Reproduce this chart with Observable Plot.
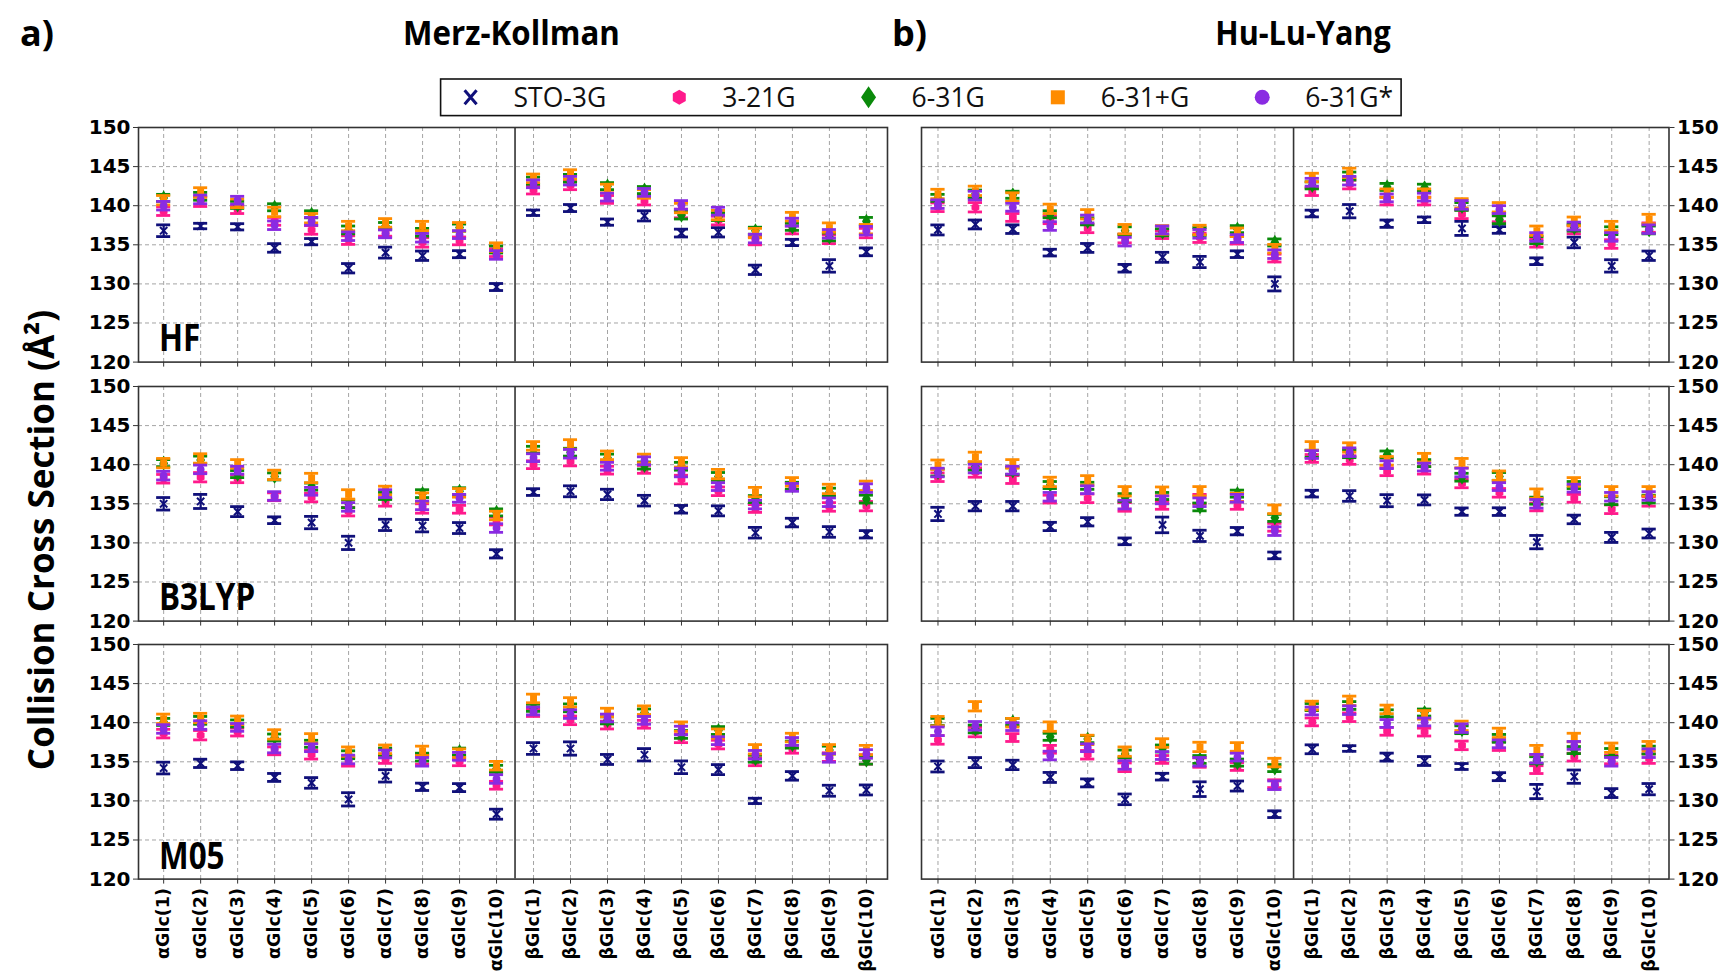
<!DOCTYPE html>
<html>
<head>
<meta charset="utf-8">
<script src="https://cdn.jsdelivr.net/npm/d3@7"></script>
<script src="https://cdn.jsdelivr.net/npm/@observablehq/plot@0.6"></script>
<style>
  html, body { margin: 0; padding: 0; background: #fff; }
  #root { position: relative; width: 1727px; height: 975px; overflow: hidden; background: #fff; }
  #root svg { position: absolute; }
</style>
</head>
<body>
<div id="root"></div>
<script>
// ---------------- data ----------------
const categories = ["αGlc(1)","αGlc(2)","αGlc(3)","αGlc(4)","αGlc(5)","αGlc(6)","αGlc(7)","αGlc(8)","αGlc(9)","αGlc(10)",
                    "βGlc(1)","βGlc(2)","βGlc(3)","βGlc(4)","βGlc(5)","βGlc(6)","βGlc(7)","βGlc(8)","βGlc(9)","βGlc(10)"];
const seriesNames = ["STO-3G","3-21G","6-31G","6-31+G","6-31G*"];
const seriesColors = ["#10107a","#ff1a8c","#0a8a0a","#ff8c00","#8a2be2"];
const seriesSymbols = ["times","hexagon","diamond","square","circle"];
const methods = ["Merz-Kollman","Hu-Lu-Yang"];
const functionals = ["HF","B3LYP","M05"];
const yTicks = [120,125,130,135,140,145,150];
const yGrid = [125,130,135,140,145];

// HF / Merz-Kollman
const hfMK_sto  = [136.8,137.4,137.3,134.6,135.4,132.0,134.0,133.6,133.8,129.6, 139.1,139.7,137.9,138.7,136.5,136.6,131.8,135.3,132.3,134.1];
const hfMK_321  = [139.3,140.5,139.5,138.0,136.9,135.6,136.6,135.3,135.5,134.0, 142.0,142.6,140.8,140.6,139.0,138.1,135.5,136.9,135.7,136.5];
const hfMK_631  = [141.0,141.2,140.1,139.8,138.9,136.9,137.4,136.6,137.2,134.4, 143.2,143.5,142.5,142.0,138.8,138.6,136.8,137.3,136.0,138.0];
const hfMK_631p = [140.7,141.7,140.3,139.2,138.4,137.4,137.8,137.4,137.3,134.7, 143.5,144.0,142.2,141.5,139.7,138.8,136.5,138.6,137.2,137.0];
const hfMK_631s = [140.0,140.8,140.7,137.5,138.0,136.1,136.4,135.9,136.3,133.7, 142.8,143.2,141.1,141.7,140.1,139.3,135.8,137.9,136.4,136.8];
// HF / Hu-Lu-Yang
const hfHLY_sto  = [136.9,137.6,137.0,134.0,134.6,132.0,133.4,132.8,133.8,130.0, 139.0,139.3,137.7,138.2,137.1,136.9,132.9,135.3,132.3,133.6];
const hfHLY_321  = [139.8,139.8,138.5,138.2,137.1,135.8,136.3,135.9,135.6,133.3, 141.8,142.7,140.6,140.6,138.9,138.5,135.2,136.9,135.1,137.2];
const hfHLY_631  = [141.0,141.5,141.4,138.9,138.0,136.8,136.6,136.7,137.0,135.3, 142.6,143.8,142.4,142.3,139.9,138.2,135.6,137.2,136.8,136.9];
const hfHLY_631p = [141.5,141.9,141.1,139.6,138.9,137.0,136.9,136.9,136.6,134.5, 143.6,144.2,141.6,141.6,140.3,139.8,136.8,138.0,137.4,138.3];
const hfHLY_631s = [140.2,141.3,139.8,137.4,138.3,135.4,136.9,136.4,135.8,133.8, 143.0,143.2,141.0,141.1,140.1,139.5,136.0,137.4,136.0,137.0];
// B3LYP / Merz-Kollman
const b3MK_sto  = [135.0,135.3,134.0,132.9,132.6,130.0,132.3,132.2,131.9,128.6, 136.5,136.6,136.2,135.4,134.3,134.1,131.3,132.6,131.4,131.1];
const b3MK_321  = [138.2,138.4,138.2,135.9,135.8,134.0,135.2,134.4,134.3,132.8, 140.0,140.4,139.3,139.4,138.1,136.6,134.4,137.2,134.6,134.7];
const b3MK_631  = [140.2,140.6,138.8,138.5,137.2,135.0,136.0,136.3,136.6,133.9, 141.9,141.6,140.9,139.9,139.8,138.5,135.6,137.3,136.5,135.6];
const b3MK_631p = [140.2,140.8,140.1,138.7,138.3,136.2,136.7,135.8,136.4,133.5, 142.4,142.6,141.2,140.8,140.3,138.8,136.5,137.8,136.9,137.3];
const b3MK_631s = [138.6,139.4,139.3,136.0,136.6,134.6,136.3,134.8,135.7,131.9, 140.9,141.4,139.8,140.5,139.0,137.2,134.9,137.1,135.2,137.0];
// B3LYP / Hu-Lu-Yang
const b3HLY_sto  = [133.7,134.7,134.7,132.1,132.7,130.2,132.3,130.9,131.5,128.4, 136.3,136.0,135.4,135.5,134.0,134.0,130.1,133.0,130.7,131.2];
const b3HLY_321  = [138.4,139.0,138.1,135.6,135.7,134.6,134.8,135.6,134.8,132.0, 140.8,140.6,139.1,139.3,137.6,136.4,134.6,135.7,134.3,135.3];
const b3HLY_631  = [139.0,139.8,139.2,137.4,137.3,135.8,136.0,134.6,136.3,133.2, 141.4,141.4,141.3,140.2,138.4,138.5,135.4,137.4,135.4,135.6];
const b3HLY_631p = [140.0,141.0,140.1,137.8,138.0,136.6,136.6,136.6,135.8,134.3, 142.4,142.2,140.5,140.9,140.2,138.6,136.3,137.8,136.6,136.6];
const b3HLY_631s = [139.0,139.5,139.3,135.9,136.8,134.9,135.5,135.2,135.7,131.5, 141.3,141.6,140.0,139.7,139.0,137.2,135.0,137.0,135.9,136.0];
// M05 / Merz-Kollman
const m05MK_sto  = [134.2,134.8,134.5,133.0,132.3,130.2,133.2,131.8,131.7,128.3, 136.7,136.7,135.3,135.9,134.3,134.0,130.0,133.2,131.3,131.4];
const m05MK_321  = [138.6,138.4,138.8,136.4,135.9,135.0,135.3,135.3,135.0,132.0, 141.3,140.3,139.7,139.8,138.0,137.2,135.0,136.6,135.6,135.3];
const m05MK_631  = [140.1,140.3,139.9,138.1,137.3,135.9,136.3,135.6,136.3,134.1, 141.9,141.9,140.3,141.3,138.5,139.0,135.4,137.2,136.5,135.2];
const m05MK_631p = [140.5,140.6,140.3,138.5,138.0,136.3,136.6,136.4,136.1,134.5, 143.1,142.6,141.3,141.6,139.5,138.6,136.6,138.1,136.6,136.5];
const m05MK_631s = [139.2,139.7,139.4,136.7,136.8,135.3,136.0,135.0,135.7,132.8, 141.5,141.1,140.6,140.3,139.0,137.7,135.9,137.6,135.5,136.0];
// M05 / Hu-Lu-Yang
const m05HLY_sto  = [134.4,134.9,134.6,133.0,132.3,130.2,133.1,131.5,131.9,128.3, 136.6,136.7,135.6,135.1,134.4,133.1,131.2,133.1,131.0,131.5];
const m05HLY_321  = [137.8,138.8,138.1,136.6,135.9,134.3,135.3,134.9,134.4,132.2, 140.1,140.7,138.9,138.8,137.1,137.0,134.0,135.6,135.3,135.4];
const m05HLY_631  = [140.1,139.2,140.1,138.2,137.9,136.0,136.7,135.3,134.9,134.2, 142.0,142.2,141.2,141.3,139.1,138.0,135.2,136.5,136.2,136.5];
const m05HLY_631p = [140.2,142.1,140.0,139.5,137.8,136.3,137.4,136.9,136.9,134.9, 142.2,142.8,141.7,141.0,139.6,138.7,136.5,138.1,136.8,137.0];
const m05HLY_631s = [138.9,139.6,139.5,135.8,136.8,134.6,135.8,135.0,135.6,132.0, 141.5,141.6,139.9,140.1,139.3,137.3,135.4,137.1,135.0,136.1];

// error half-widths
const hfMK_stoErr   = [0.75,0.35,0.4,0.55,0.4,0.6,0.7,0.6,0.45,0.45, 0.35,0.45,0.4,0.65,0.5,0.6,0.6,0.4,0.8,0.5];
const hfHLY_stoErr  = [0.64,0.57,0.55,0.43,0.57,0.49,0.64,0.72,0.43,0.9, 0.43,0.85,0.47,0.36,0.9,0.43,0.43,0.68,0.79,0.6];
const b3MK_stoErr   = [0.8,0.9,0.64,0.43,0.79,0.85,0.72,0.79,0.7,0.53, 0.43,0.7,0.66,0.68,0.49,0.64,0.68,0.55,0.68,0.47];
const b3HLY_stoErr  = [0.85,0.6,0.6,0.53,0.53,0.43,1.0,0.72,0.47,0.43, 0.43,0.68,0.77,0.64,0.47,0.49,0.85,0.55,0.64,0.57];
const m05MK_stoErr  = [0.75,0.53,0.49,0.51,0.68,0.85,0.79,0.47,0.51,0.64, 0.75,0.85,0.64,0.79,0.81,0.64,0.34,0.55,0.7,0.64];
const m05HLY_stoErr = [0.7,0.64,0.6,0.64,0.51,0.68,0.43,0.94,0.64,0.43, 0.57,0.36,0.51,0.57,0.38,0.51,0.91,0.85,0.57,0.72];
const err321  = [0.55,0.6,0.5,0.5,0.55,0.55,0.5,0.6,0.5,0.5, 0.5,0.55,0.5,0.5,0.55,0.55,0.5,0.5,0.55,0.6];
const err631  = [0.45,0.5,0.45,0.45,0.45,0.5,0.45,0.5,0.45,0.45, 0.45,0.5,0.45,0.45,0.5,0.5,0.45,0.45,0.5,0.5];
const err631p = [0.6,0.6,0.55,0.6,0.6,0.6,0.55,0.6,0.55,0.55, 0.55,0.6,0.55,0.55,0.6,0.6,0.6,0.55,0.6,0.6];
const err631s = [0.55,0.55,0.5,0.55,0.5,0.55,0.5,0.55,0.5,0.55, 0.5,0.55,0.5,0.5,0.55,0.5,0.55,0.5,0.55,0.55];

const panelSeries = [
  [[hfMK_sto,hfMK_321,hfMK_631,hfMK_631p,hfMK_631s],[hfHLY_sto,hfHLY_321,hfHLY_631,hfHLY_631p,hfHLY_631s]],
  [[b3MK_sto,b3MK_321,b3MK_631,b3MK_631p,b3MK_631s],[b3HLY_sto,b3HLY_321,b3HLY_631,b3HLY_631p,b3HLY_631s]],
  [[m05MK_sto,m05MK_321,m05MK_631,m05MK_631p,m05MK_631s],[m05HLY_sto,m05HLY_321,m05HLY_631,m05HLY_631p,m05HLY_631s]]
];
const panelStoErr = [[hfMK_stoErr,hfHLY_stoErr],[b3MK_stoErr,b3HLY_stoErr],[m05MK_stoErr,m05HLY_stoErr]];

// ---------------- layout ----------------
const colX = [138, 921];
const colW = [749, 747.5];
const rowY = [126.5, 385.5, 644.3];
const panelH = 234.6;
const xDomains = [[-0.68, 19.57], [-0.44, 19.53]];

const root = document.getElementById("root");
const idx = d3.range(categories.length);

function buildPanel(row, col) {
  const isLeft = col === 0, isBottom = row === 2;
  const mL = isLeft ? 80 : 1, mR = isLeft ? 1 : 80, mT = 2, mB = isBottom ? 110 : 10;
  const series = panelSeries[row][col];
  const errs = [panelStoErr[row][col], err321, err631, err631p, err631s];

  const marks = [
    Plot.ruleX(idx, {stroke: "#9a9a9a", strokeWidth: 0.9, strokeDasharray: "4,3"}),
    Plot.ruleY(yGrid, {stroke: "#9a9a9a", strokeWidth: 0.9, strokeDasharray: "4,3"}),
    Plot.ruleX([9.5], {stroke: "#333", strokeWidth: 1.6}),
    Plot.axisX(idx, {
      label: null, tickSize: 5, tickPadding: 4, stroke: "#333",
      tickFormat: isBottom ? (i => categories[i]) : (() => ""),
      tickRotate: -90, fontSize: 17.5, fontWeight: "bold", fill: "#000"
    }),
    Plot.axisY(yTicks, {
      anchor: isLeft ? "left" : "right", label: null, tickSize: 5, tickPadding: 3,
      stroke: "#333", fontSize: 20, fontWeight: "bold", fill: "#000"
    })
  ];

  seriesNames.forEach((name, s) => {
    const d = series[s].map((v, i) => ({i, v, e: errs[s][i]}));
    const c = seriesColors[s];
    marks.push(Plot.ruleX(d, {x: "i", y1: p => p.v - p.e, y2: p => p.v + p.e, stroke: c, strokeWidth: 2.2}));
    marks.push(Plot.ruleY(d, {y: p => p.v + p.e, x1: p => p.i - 0.19, x2: p => p.i + 0.19, stroke: c, strokeWidth: 2.8}));
    marks.push(Plot.ruleY(d, {y: p => p.v - p.e, x1: p => p.i - 0.19, x2: p => p.i + 0.19, stroke: c, strokeWidth: 2.8}));
    if (s === 0) {
      marks.push(Plot.dot(d, {x: "i", y: "v", symbol: "times", r: 3.4, stroke: c, strokeWidth: 2}));
    } else {
      marks.push(Plot.dot(d, {x: "i", y: "v", symbol: seriesSymbols[s], r: s === 2 ? 4.6 : 3.9, fill: c}));
    }
  });

  marks.push(Plot.frame({stroke: "#333", strokeWidth: 1.6}));

  const svg = Plot.plot({
    width: mL + colW[col] + mR,
    height: mT + panelH + mB,
    marginLeft: mL, marginRight: mR, marginTop: mT, marginBottom: mB,
    x: {type: "linear", domain: xDomains[col], label: null},
    y: {type: "linear", domain: [120, 150], label: null},
    style: {fontFamily: "'DejaVu Sans', sans-serif", fontWeight: "bold", fontSize: "17px",
            background: "transparent", overflow: "visible", color: "#000", maxWidth: "none"},
    marks
  });
  svg.style.left = (colX[col] - mL) + "px";
  svg.style.top = (rowY[row] - mT) + "px";
  root.appendChild(svg);
}

for (let r = 0; r < 3; r++) for (let c = 0; c < 2; c++) buildPanel(r, c);

// ---------------- titles, legend, y label ----------------
const ov = d3.select(root).append("svg")
  .attr("width", 1727).attr("height", 975)
  .style("left", "0px").style("top", "0px").style("pointer-events", "none");

const titleFont = "'Open Sans', sans-serif";
function narrowText(x, y, txt, size, sx, anchor) {
  ov.append("text")
    .attr("transform", `translate(${x},${y}) scale(${sx},1)`)
    .attr("text-anchor", anchor || "start")
    .attr("font-family", titleFont).attr("font-weight", "bold").attr("font-size", size)
    .attr("fill", "#000")
    .text(txt);
}
narrowText(20, 46, "a)", 36, 1);
narrowText(892, 46, "b)", 36, 1);
narrowText(511.5, 45, methods[0], 34, 0.92, "middle");
narrowText(1303, 45, methods[1], 34, 0.9, "middle");

// panel labels (functional names), inside lower-left of left panels
functionals.forEach((f, r) => {
  narrowText(colX[0] + 21, rowY[r] + panelH - 10, f, 37, 0.85);
});

ov.append("text")
  .attr("transform", "translate(54,540) rotate(-90)")
  .attr("text-anchor", "middle")
  .attr("font-family", "'Open Sans', sans-serif").attr("font-weight", "bold").attr("font-size", 35)
  .text("Collision Cross Section (Å²)");

// legend
const lgX = 440.6, lgY = 79, lgW = 960.5, lgH = 36.6, lgCy = lgY + lgH / 2;
ov.append("rect").attr("x", lgX).attr("y", lgY).attr("width", lgW).attr("height", lgH)
  .attr("fill", "#fff").attr("stroke", "#111").attr("stroke-width", 1.6);

function hexPath(r) {
  const pts = d3.range(6).map(k => {
    const a = Math.PI / 3 * k - Math.PI / 2;
    return [r * Math.cos(a), r * Math.sin(a)];
  });
  return "M" + pts.map(p => p.join(",")).join("L") + "Z";
}
let cur = lgX + 30;
seriesNames.forEach((name, s) => {
  const g = ov.append("g").attr("transform", `translate(${cur},${lgCy})`);
  const c = seriesColors[s];
  if (s === 0) g.append("path").attr("d", "M-6,-7L6,7M-6,7L6,-7").attr("stroke", c).attr("stroke-width", 3).attr("fill", "none");
  else if (s === 1) g.append("path").attr("d", hexPath(7.5)).attr("fill", c);
  else if (s === 2) g.append("path").attr("d", "M0,-11L7.5,0L0,11L-7.5,0Z").attr("fill", c);
  else if (s === 3) g.append("rect").attr("x", -7).attr("y", -7).attr("width", 14).attr("height", 14).attr("fill", c);
  else g.append("circle").attr("r", 7.5).attr("fill", c);
  const t = ov.append("text").attr("x", cur + 43).attr("y", lgCy).attr("dy", "0.36em")
    .attr("font-family", "'Open Sans', sans-serif").attr("font-size", 26.5).attr("fill", "#111")
    .text(name);
  const w = t.node().getComputedTextLength();
  cur = cur + 43 + w + 73;
});
</script>
</body>
</html>
